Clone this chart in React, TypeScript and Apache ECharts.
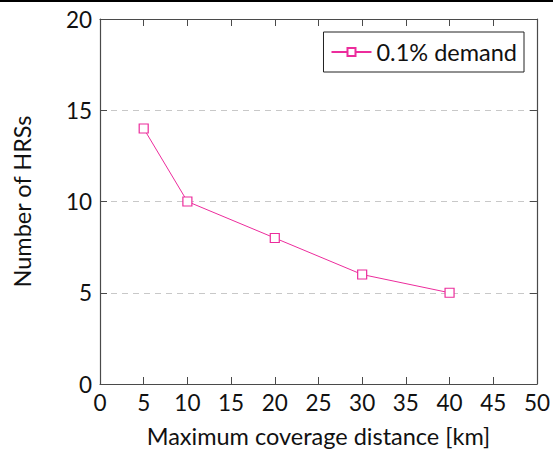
import React, { useEffect, useRef } from "react";
import * as echarts from "echarts";

const distances = [5, 10, 20, 30, 40];
const hrsCounts = [14, 10, 8, 6, 5];
const seriesName = "0.1% demand";
const xTitle = "Maximum coverage distance [km]";
const yTitle = "Number of HRSs";

const FONT = "Lato";
const PINK = "#ec2c9c";
const AXIS = "#4a4a4a";

export default function App() {
  const ref = useRef<HTMLDivElement>(null);
  useEffect(() => {
    if (!ref.current) return;
    const chart = echarts.init(ref.current, null, { renderer: "svg" });
    const tickCommon = {
      axisTick: { show: true, inside: true, length: 7, lineStyle: { color: AXIS, width: 1 } },
      axisLine: { show: true, onZero: false, lineStyle: { color: AXIS, width: 1.2 } },
    };
    chart.setOption({
      animation: false,
      textStyle: { fontFamily: FONT },
      grid: { left: 100, right: 15, top: 19, bottom: 70 },
      graphic: [
        { type: "rect", left: 0, top: 0, shape: { width: 553, height: 2 }, style: { fill: "#000" } },
      ],
      legend: {
        data: [{ name: seriesName }],
        right: 29,
        top: 32,
        padding: [8, 7, 8, 7],
        borderColor: "#222",
        borderWidth: 1,
        backgroundColor: "#fff",
        itemWidth: 40,
        itemHeight: 10,
        itemGap: 4,
        textStyle: { fontFamily: FONT, fontSize: 23.5, color: "#111" },
      },
      xAxis: [
        {
          type: "value",
          min: 0,
          max: 50,
          interval: 5,
          position: "bottom",
          name: xTitle,
          nameLocation: "middle",
          nameGap: 40,
          nameTextStyle: { fontFamily: FONT, fontSize: 23.5, color: "#111" },
          axisLabel: { margin: 7, fontFamily: FONT, fontSize: 22.5, color: "#111" },
          splitLine: { show: false },
          ...tickCommon,
        },
        {
          type: "value",
          min: 0,
          max: 50,
          interval: 5,
          position: "top",
          axisLabel: { show: false },
          splitLine: { show: false },
          ...tickCommon,
        },
      ],
      yAxis: [
        {
          type: "value",
          min: 0,
          max: 20,
          interval: 5,
          position: "left",
          name: yTitle,
          nameLocation: "middle",
          nameGap: 66,
          nameTextStyle: { fontFamily: FONT, fontSize: 23.5, color: "#111" },
          axisLabel: { margin: 8, fontFamily: FONT, fontSize: 22.5, color: "#111" },
          splitLine: { show: true, lineStyle: { color: "#c8c8c8", type: [6, 5], width: 1 } },
          ...tickCommon,
        },
        {
          type: "value",
          min: 0,
          max: 20,
          interval: 5,
          position: "right",
          axisLabel: { show: false },
          splitLine: { show: false },
          ...tickCommon,
        },
      ],
      series: [
        {
          name: seriesName,
          type: "line",
          data: distances.map((d, i) => [d, hrsCounts[i]]),
          symbol: "rect",
          symbolSize: 9,
          showAllSymbol: true,
          lineStyle: { color: PINK, width: 1 },
          itemStyle: { color: "#fff", borderColor: PINK, borderWidth: 1.2 },
          emphasis: { disabled: true },
          z: 5,
        },
      ],
    });
    return () => chart.dispose();
  }, []);
  return <div ref={ref} style={{ width: 553, height: 454, position: "absolute", left: 0, top: 0, background: "#fff" }} />;
}
